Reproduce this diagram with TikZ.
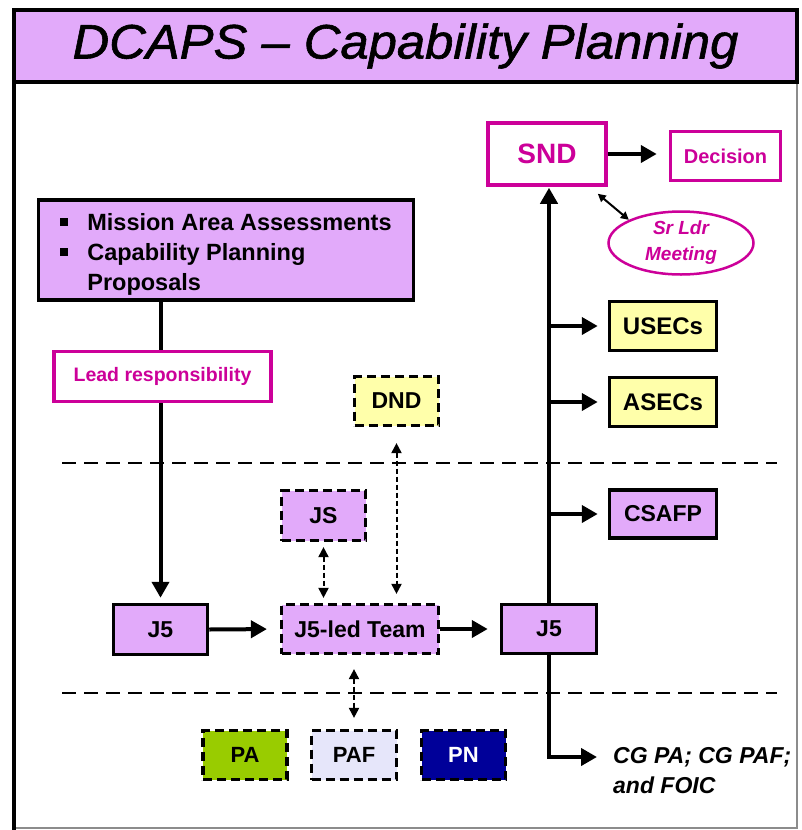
\documentclass[tikz,border=0pt]{standalone}
\usepackage{fontspec}
\setmainfont{Liberation Sans}
\newfontfamily\titlefont[FakeBold=1.2]{Liberation Sans}
\usetikzlibrary{arrows.meta,shapes.geometric}
\definecolor{lilac}{RGB}{226,170,250}
\definecolor{mag}{RGB}{204,0,153}
\definecolor{paleyel}{RGB}{255,255,170}
\definecolor{pagreen}{RGB}{153,204,0}
\definecolor{paflav}{RGB}{230,230,250}
\definecolor{pnnavy}{RGB}{0,0,153}
\newcommand\bul{\rule[4pt]{8pt}{8pt}}
\newcommand\fs[2]{\fontsize{#1}{#2}\selectfont}
\begin{document}
\begin{tikzpicture}[x=1pt,y=-1pt,
 solidbox/.style={draw=black, line width=3.5pt, inner sep=0pt},
 dashbox/.style={draw=black, line width=3.2pt, dash pattern=on 9pt off 5pt, inner sep=0pt},
 pinkbox/.style={draw=mag, line width=3.5pt, fill=white, text=mag, inner sep=0pt},
 bigarrow/.style={line width=4pt, -{Triangle[length=16pt,width=17pt]}},
 dotarrow/.style={line width=2pt, dash pattern=on 5pt off 3pt, {Triangle[length=10pt,width=10pt]}-{Triangle[length=10pt,width=10pt]}},
 smallarrow/.style={line width=2pt, {Triangle[length=8pt,width=8pt]}-{Triangle[length=8pt,width=8pt]}},
 sepline/.style={line width=2.5pt, dash pattern=on 14pt off 8pt},
]
\useasboundingbox (0,0) rectangle (801,830);

% frame
\draw[line width=1.2pt, black!45] (14,82) -- (14,828) -- (797,828) -- (797,82);
\draw[line width=4pt] (14,82) -- (14,830);
\node[draw=black, fill=lilac, line width=4pt, minimum width=783, minimum height=72, inner sep=0pt] (titlebar) at (405.5,46)
  {\raisebox{-3pt}{\scalebox{1.08}[1.03]{\titlefont\itshape\fs{47}{54}DCAPS – Capability Planning}}};

% separators
\draw[sepline] (62,463) -- (777,463);
\draw[sepline] (62,693) -- (777,693);

% nodes
\node[pinkbox, minimum width=118, minimum height=62, font=\bfseries\fs{28}{32}] (SND) at (547,154) {SND};
\node[pinkbox, minimum width=110, minimum height=49, font=\bfseries\fs{20}{24}] (dec) at (725.5,156) {Decision};
\node[ellipse, draw=mag, line width=2.5pt, fill=white, text=mag, minimum width=145, minimum height=63, inner sep=0pt, align=center, font=\bfseries\itshape\fs{19}{26}] (sr) at (681,243) {Sr Ldr\\Meeting};
\node[solidbox, fill=lilac, minimum width=375, minimum height=100, font=\bfseries\fs{23.5}{30}] (mission) at (226,250) {};
\node[anchor=center, inner sep=0pt, font=\bfseries\fs{23.5}{30}] (missiontext) at ([yshift=-4pt]mission.center)
  {\begin{tabular}{@{}l@{\hspace{19pt}}l@{}}\bul & Mission Area Assessments\\ \bul & Capability Planning\\ & Proposals\end{tabular}};
\node[pinkbox, minimum width=217, minimum height=50, font=\bfseries\fs{19.5}{24}] (lead) at (162.5,376.5) {Lead responsibility};
\node[dashbox, fill=paleyel, minimum width=84, minimum height=49, font=\bfseries\fs{23}{26}] (dnd) at (396.5,401) {DND};
\node[solidbox, fill=paleyel, minimum width=107, minimum height=49, font=\bfseries\fs{24}{28}] (usec) at (663,326) {USECs};
\node[solidbox, fill=paleyel, minimum width=107, minimum height=49, font=\bfseries\fs{24}{28}] (asec) at (663,402) {ASECs};
\node[solidbox, fill=lilac, minimum width=107, minimum height=48, font=\bfseries\fs{23}{28}] (csafp) at (663,514) {CSAFP};
\node[dashbox, fill=lilac, minimum width=84, minimum height=50, font=\bfseries\fs{23}{26}] (js) at (323.5,515.5) {JS};
\node[solidbox, fill=lilac, minimum width=94, minimum height=50, font=\bfseries\fs{23}{26}] (j5a) at (160.5,629.5) {J5};
\node[dashbox, fill=lilac, minimum width=157, minimum height=49, font=\bfseries\fs{23}{26}] (team) at (360,629) {J5-led Team};
\node[solidbox, fill=lilac, minimum width=95, minimum height=49, font=\bfseries\fs{23}{26}] (j5b) at (549,629) {J5};
\node[dashbox, fill=pagreen, minimum width=84, minimum height=49, font=\bfseries\fs{22}{26}] (pa) at (245,755) {PA};
\node[dashbox, fill=paflav, minimum width=85, minimum height=49, font=\bfseries\fs{22}{26}] (paf) at (354,755) {PAF};
\node[dashbox, fill=pnnavy, text=white, minimum width=84, minimum height=49, font=\bfseries\fs{22}{26}] (pn) at (463.5,755) {PN};
\node[anchor=north west, inner sep=0pt, align=left, font=\bfseries\itshape\fs{23}{30}] (cg) at (613,747) {CG PA; CG PAF;\\and FOIC};
\coordinate (cgtip) at (597,757);

% connectors
\draw[bigarrow, shorten >=12pt] (SND.east) -- (SND.east -| dec.west);
\draw[smallarrow] ([xshift=-10pt,yshift=-7pt]SND.south east) -- (sr.north west);
\draw[line width=4pt] (mission.south -| j5a) -- (lead.north -| j5a);
\draw[bigarrow, shorten >=5pt] (lead.south -| j5a) -- (j5a.north);
\draw[bigarrow, shorten >=13pt] (j5a.east) -- (team.west);
\draw[bigarrow, shorten >=12pt] (team.east) -- (j5b.west);
\draw[bigarrow, shorten >=1pt] (j5b.north) -- (j5b.north |- SND.south);
\draw[bigarrow, shorten >=10pt] (j5b.north |- usec.west) -- (usec.west);
\draw[bigarrow, shorten >=10pt] (j5b.north |- asec.west) -- (asec.west);
\draw[bigarrow, shorten >=10pt] (j5b.north |- csafp.west) -- (csafp.west);
\draw[bigarrow] (j5b.south) |- (cgtip);
\draw[dotarrow, shorten <=5pt, shorten >=5pt] (js.south) -- (js.south |- team.north);
\draw[dotarrow, shorten <=16pt, shorten >=9pt] (dnd.south) -- (dnd.south |- team.north);
\draw[dotarrow, shorten <=14pt, shorten >=11pt] (team.south -| paf.north) -- (paf.north);
\end{tikzpicture}
\end{document}
